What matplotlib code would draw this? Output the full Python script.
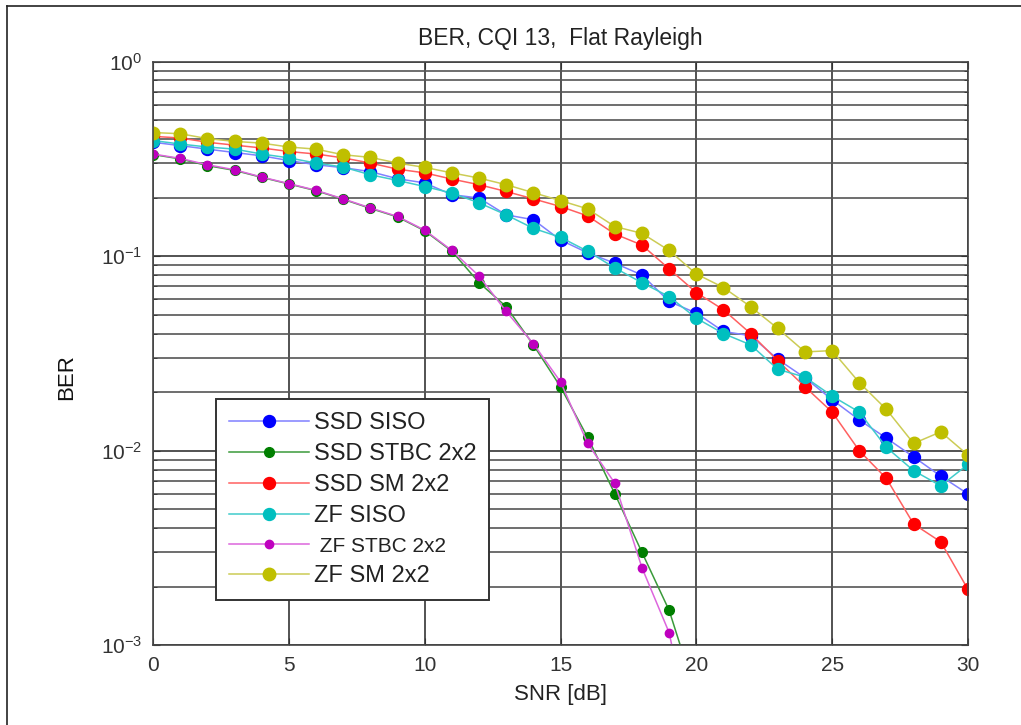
import matplotlib
matplotlib.use('Agg')
import matplotlib.pyplot as plt
import matplotlib.ticker as ticker
from matplotlib.lines import Line2D
import numpy as np

plt.rcParams['font.family'] = ['Liberation Sans', 'DejaVu Sans']
plt.rcParams['mathtext.fontset'] = 'custom'
plt.rcParams['mathtext.rm'] = 'Liberation Sans'
plt.rcParams['mathtext.it'] = 'Liberation Sans'

snr = np.arange(0, 31)
snr_stbc = np.arange(0, 21)

ssd_siso = [0.385, 0.370, 0.355, 0.341, 0.328, 0.310, 0.295, 0.285, 0.272, 0.250,
            0.238, 0.207, 0.199, 0.163, 0.154, 0.121, 0.104, 0.092, 0.080, 0.0585,
            0.051, 0.041, 0.039, 0.0295, 0.0237, 0.0183, 0.0144, 0.0116, 0.0093, 0.0074,
            0.0060]
ssd_stbc = [0.333, 0.316, 0.292, 0.276, 0.254, 0.235, 0.217, 0.196, 0.176, 0.159,
            0.135, 0.106, 0.0731, 0.055, 0.035, 0.0213, 0.0117, 0.0060, 0.0030, 0.00151,
            0.00055]
ssd_sm = [0.413, 0.405, 0.385, 0.372, 0.360, 0.345, 0.335, 0.320, 0.301, 0.280,
          0.268, 0.249, 0.233, 0.215, 0.197, 0.180, 0.161, 0.130, 0.114, 0.086,
          0.065, 0.053, 0.040, 0.029, 0.0213, 0.0158, 0.0100, 0.0072, 0.0042, 0.0034,
          0.00194]
zf_siso = [0.393, 0.377, 0.364, 0.355, 0.335, 0.320, 0.301, 0.287, 0.262, 0.245,
           0.228, 0.211, 0.188, 0.163, 0.139, 0.125, 0.106, 0.087, 0.073, 0.062,
           0.048, 0.040, 0.035, 0.0262, 0.0239, 0.0191, 0.0158, 0.0104, 0.0079, 0.0066,
           0.0085]
zf_stbc = [0.335, 0.318, 0.295, 0.278, 0.255, 0.236, 0.218, 0.197, 0.177, 0.160,
           0.136, 0.107, 0.079, 0.052, 0.0355, 0.0226, 0.0109, 0.0068, 0.0025, 0.00116,
           0.00025]
zf_sm = [0.432, 0.426, 0.402, 0.389, 0.381, 0.364, 0.355, 0.332, 0.322, 0.301,
         0.286, 0.268, 0.252, 0.233, 0.212, 0.193, 0.175, 0.142, 0.131, 0.107,
         0.081, 0.069, 0.055, 0.0425, 0.0322, 0.0327, 0.0224, 0.0163, 0.0109, 0.0125,
         0.0095]

fig = plt.figure(figsize=(10.21, 7.25), dpi=100)
ax = fig.add_axes([0.150, 0.110, 0.798, 0.805])

# (x, y, label, marker colour, line colour, marker size)
curves = [
    (snr, ssd_siso, 'SSD SISO', '#0000ff', '#8080ff', 8.6),
    (snr_stbc, ssd_stbc, 'SSD STBC 2x2', '#007f00', '#3a9a3a', 7),
    (snr, ssd_sm, 'SSD SM 2x2', '#ff0000', '#ff6060', 8.6),
    (snr, zf_siso, 'ZF SISO', '#00bfbf', '#40cccc', 8.6),
    (snr_stbc, zf_stbc, ' ZF STBC 2x2', '#bf00bf', '#dd66dd', 6),
    (snr, zf_sm, 'ZF SM 2x2', '#bfbf00', '#cccc55', 9),
]

for x, y, lab, mc, lc, ms in curves:
    ax.semilogy(x, y, '-o', color=lc, lw=1.1, markerfacecolor=mc,
                markeredgecolor=mc, markersize=ms, label=lab)

ax.set_xlim(0, 30)
ax.set_ylim(1e-3, 1e0)
ax.xaxis.set_major_locator(ticker.MultipleLocator(5))
ax.yaxis.set_major_locator(ticker.LogLocator(base=10, numticks=10))
ax.yaxis.set_minor_locator(ticker.LogLocator(base=10, subs=np.arange(2, 10), numticks=10))
ax.yaxis.set_minor_formatter(ticker.NullFormatter())

ax.grid(True, which='major', color='#444444', lw=1.3)
ax.grid(True, which='minor', axis='y', color='#555555', lw=1.2)
ax.set_axisbelow(True)

ax.tick_params(which='both', direction='in', top=True, right=True,
               labelsize=15, colors='#333333', pad=8)
ax.tick_params(which='major', length=5)
ax.tick_params(which='minor', length=3)
for s in ax.spines.values():
    s.set_color('#444444')
    s.set_linewidth(1.2)

ax.set_title('BER, CQI 13,  Flat Rayleigh', fontsize=16.5, color='#222222', pad=12)
ax.set_xlabel('SNR [dB]', fontsize=16, color='#222222', labelpad=6)
ax.set_ylabel('BER', fontsize=16, color='#111111')
ax.yaxis.set_label_coords(-0.093, 0.46)

leg = ax.legend(loc='lower left', bbox_to_anchor=(0.077, 0.077), fontsize=17,
                handlelength=3.4, handletextpad=0.2, borderpad=0.55,
                borderaxespad=0.0, labelspacing=0.38, fancybox=False, shadow=False,
                edgecolor='#333333', framealpha=1.0)
leg.get_frame().set_linewidth(1.4)
leg.get_texts()[4].set_fontsize(15)
for t in leg.get_texts():
    t.set_color('#222222')

# outer border on the top and left edges
fig.add_artist(Line2D([7 / 1021, 1.0], [1 - 6 / 725, 1 - 6 / 725], color='#222222', lw=1.2))
fig.add_artist(Line2D([7 / 1021, 7 / 1021], [0.0, 1 - 6 / 725], color='#222222', lw=1.2))

fig.savefig('out.png', dpi=100)
